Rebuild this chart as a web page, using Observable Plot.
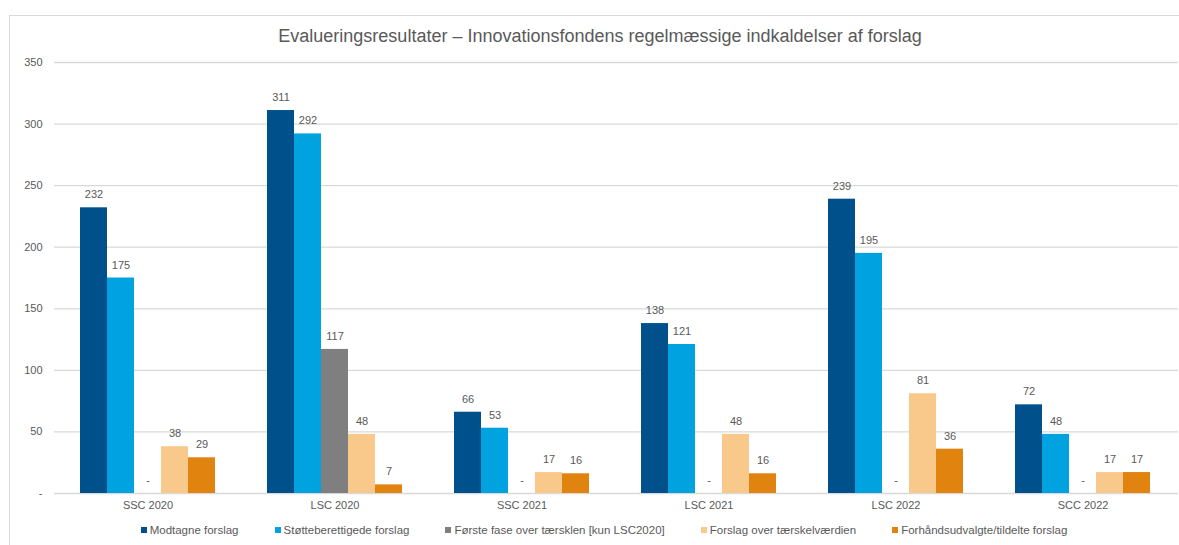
<!DOCTYPE html>
<html>
<head>
<meta charset="utf-8">
<script src="https://cdn.jsdelivr.net/npm/d3@7"></script>
<script src="https://cdn.jsdelivr.net/npm/@observablehq/plot@0.6"></script>
<style>
  html, body { margin: 0; padding: 0; background: #fff; }
  #wrap { position: relative; width: 1179px; height: 545px; overflow: hidden; font-family: "Liberation Sans", Arial, sans-serif; }
  #frame { position: absolute; left: 9px; top: 15px; width: 1200px; height: 600px; border: 1px solid #d9d9d9; box-sizing: border-box; }
  #title { position: absolute; left: 0; width: 1200px; top: 26px; text-align: center; font-size: 18px; color: #595959; }
  #grid, #chart { position: absolute; left: 0; top: 0; }
  #legend { position: absolute; top: 524px; left: 0; width: 1208px; display: flex; justify-content: center; gap: 36px; font-size: 11.5px; color: #595959; }
  #legend .item { display: flex; align-items: center; white-space: nowrap; }
  #legend .sw { width: 6px; height: 6px; margin-right: 3px; display: inline-block; }
</style>
</head>
<body>
<div id="wrap">
  <div id="frame"></div>
  <div id="grid"></div>
  <div id="chart"></div>
  <div id="title"></div>
  <div id="legend"></div>
</div>
<script>
const title = "Evalueringsresultater – Innovationsfondens regelmæssige indkaldelser af forslag";
const categories = ["SSC 2020", "LSC 2020", "SSC 2021", "LSC 2021", "LSC 2022", "SCC 2022"];
const seriesNames = [
  "Modtagne forslag",
  "Støtteberettigede forslag",
  "Første fase over tærsklen [kun LSC2020]",
  "Forslag over tærskelværdien",
  "Forhåndsudvalgte/tildelte forslag"
];
const modtagne = [232, 311, 66, 138, 239, 72];
const stotteberettigede = [175, 292, 53, 121, 195, 48];
const forsteFase = [0, 117, 0, 0, 0, 0];
const overTaerskel = [38, 48, 17, 48, 81, 17];
const udvalgte = [29, 7, 16, 16, 36, 17];
const yTicks = [0, 50, 100, 150, 200, 250, 300, 350];
const colors = ["#00508c", "#00a3e0", "#7f7f7f", "#f9c98c", "#e0830f"];

const seriesValues = [modtagne, stotteberettigede, forsteFase, overTaerskel, udvalgte];
const data = [];
categories.forEach((c, i) => {
  seriesNames.forEach((s, j) => {
    data.push({category: c, series: s, value: seriesValues[j][i]});
  });
});

const fmt = d => d === 0 ? "-" : String(d);
const common = {
  width: 1179,
  height: 520,
  marginLeft: 52,
  marginRight: 1,
  marginTop: 62,
  marginBottom: 27,
  style: {fontFamily: '"Liberation Sans", Arial, sans-serif', fontSize: "11px", color: "#595959", background: "transparent"}
};

// Background: gridlines and y axis spanning the whole plot area
const grid = Plot.plot({
  ...common,
  marginLeft: 54,
  y: {domain: [0, 350], ticks: yTicks, tickFormat: fmt, tickSize: 0, tickPadding: 12, label: null},
  marks: [
    Plot.ruleY(yTicks, {stroke: "#d9d9d9", strokeWidth: 1.3})
  ]
});
document.getElementById("grid").appendChild(grid);

// Foreground: grouped bars
const chart = Plot.plot({
  ...common,
  fx: {domain: categories, paddingInner: 0.267, paddingOuter: 0.1335, label: null, axis: "bottom", tickSize: 0, tickPadding: 8},
  x: {domain: seriesNames, axis: null, padding: 0},
  y: {domain: [0, 350], axis: null},
  color: {domain: seriesNames, range: colors},
  marks: [
    Plot.barY(data, {fx: "category", x: "series", y: "value", fill: "series"}),
    Plot.text(data, {fx: "category", x: "series", y: "value", text: d => fmt(d.value), dy: -13, fill: "#595959", fontSize: 11})
  ]
});
document.getElementById("chart").appendChild(chart);
document.getElementById("title").textContent = title;

const legend = document.getElementById("legend");
seriesNames.forEach((s, j) => {
  const item = document.createElement("span");
  item.className = "item";
  const sw = document.createElement("span");
  sw.className = "sw";
  sw.style.background = colors[j];
  item.appendChild(sw);
  item.appendChild(document.createTextNode(s));
  legend.appendChild(item);
});
</script>
</body>
</html>
